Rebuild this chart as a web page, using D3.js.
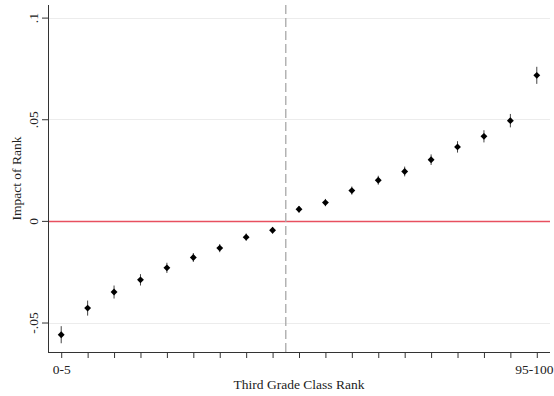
<!DOCTYPE html>
<html>
<head>
<meta charset="utf-8">
<script src="https://cdn.jsdelivr.net/npm/d3@7"></script>
<style>
  html, body { margin: 0; padding: 0; background: #fff; }
  svg { display: block; }
  text { font-family: "Liberation Serif", "Times New Roman", serif; fill: #222; }
</style>
</head>
<body>
<svg id="chart" width="554" height="396"></svg>
<script>
// Data
const categories = ["0-5","","","","","","","","","","","","","","","","","","95-100"];
const estimates = [-0.056, -0.0429, -0.035, -0.029, -0.0231, -0.018, -0.0134, -0.008, -0.0046,
                   0.0057, 0.009, 0.0149, 0.020, 0.0243, 0.0301, 0.0364, 0.0416, 0.0493, 0.0716];
const ciHalf = [0.0042, 0.0037, 0.0032, 0.0028, 0.0025, 0.0022, 0.002, 0.0018, 0.0016,
                0.0016, 0.0018, 0.002, 0.0022, 0.0024, 0.0026, 0.0028, 0.003, 0.0033, 0.0042];
const yTickValues = [-0.05, 0, 0.05, 0.1];
const yTickLabels = ["-.05", "0", ".05", ".1"];
const cutoffIndex = 8.5;

const svg = d3.select("#chart");
const mLeft = 48, mRight = 550, mTop = 5, mBottom = 352;

const x = d3.scaleLinear().domain([-0.5, categories.length - 0.5]).range([mLeft, mRight]);
const y = d3.scaleLinear().domain([-0.0645, 0.1062]).range([mBottom, mTop]);

// Gridlines
svg.append("g").selectAll("line")
  .data(yTickValues.filter(v => v !== 0))
  .join("line")
  .attr("x1", mLeft + 1).attr("x2", mRight)
  .attr("y1", d => Math.round(y(d)) + 0.5).attr("y2", d => Math.round(y(d)) + 0.5)
  .attr("stroke", "#ececec").attr("stroke-width", 1.2);

// Zero reference line
svg.append("line")
  .attr("x1", mLeft + 1).attr("x2", mRight)
  .attr("y1", Math.round(y(0)) + 0.5).attr("y2", Math.round(y(0)) + 0.5)
  .style("stroke", "#e8505f").style("stroke-width", "1.3px");

// Dashed cutoff line
svg.append("line")
  .attr("x1", x(cutoffIndex)).attr("x2", x(cutoffIndex))
  .attr("y1", mTop).attr("y2", mBottom)
  .attr("stroke", "#a8a8a8").attr("stroke-width", 1.3)
  .attr("stroke-dasharray", "9,4");

// Y axis
const yAxis = d3.axisLeft(y).tickValues(yTickValues)
  .tickFormat((d, i) => yTickLabels[i]).tickSize(6).tickSizeOuter(0);
const gy = svg.append("g").attr("transform", `translate(${mLeft},0)`).call(yAxis);
gy.select(".domain").attr("stroke", "#333").attr("d", `M0.5,${mTop}V${mBottom}`);
gy.selectAll(".tick line").attr("stroke", "#333");
gy.selectAll(".tick text")
  .attr("font-family", "Liberation Serif, serif").attr("font-size", 13.5).attr("fill", "#222")
  .attr("transform", "rotate(-90)")
  .attr("x", 0).attr("y", -10).attr("dy", 0)
  .attr("text-anchor", "middle");

// X axis
const xAxis = d3.axisBottom(x).tickValues(d3.range(categories.length))
  .tickFormat(i => categories[i]).tickSize(6).tickSizeOuter(0);
const gx = svg.append("g").attr("transform", `translate(0,${mBottom})`).call(xAxis);
gx.select(".domain").attr("stroke", "#333").attr("d", `M${mLeft},0.5H${mRight}`);
gx.selectAll(".tick line").attr("stroke", "#333");
gx.selectAll(".tick text")
  .attr("font-family", "Liberation Serif, serif").attr("font-size", 13.5).attr("fill", "#222")
  .attr("y", 12).attr("dy", "0.71em");
// keep the last label inside the frame
gx.selectAll(".tick text").filter((d, i) => i === categories.length - 1)
  .attr("text-anchor", "end").attr("x", 553 - x(categories.length - 1));

// Axis titles
svg.append("text")
  .attr("x", (mLeft + mRight) / 2).attr("y", 389)
  .attr("text-anchor", "middle").attr("font-size", 13.5)
  .text("Third Grade Class Rank");
svg.append("text")
  .attr("transform", `translate(21,${(mTop + mBottom) / 2}) rotate(-90)`)
  .attr("text-anchor", "middle").attr("font-size", 13.5)
  .text("Impact of Rank");

// Error bars
svg.append("g").selectAll("line")
  .data(estimates)
  .join("line")
  .attr("x1", (d, i) => x(i)).attr("x2", (d, i) => x(i))
  .attr("y1", (d, i) => y(d - ciHalf[i])).attr("y2", (d, i) => y(d + ciHalf[i]))
  .attr("stroke", "#444").attr("stroke-width", 1);

// Diamond markers
const diamond = d3.symbol().type(d3.symbolDiamond2).size(30);
svg.append("g").selectAll("path")
  .data(estimates)
  .join("path")
  .attr("transform", (d, i) => `translate(${x(i)},${y(d)})`)
  .attr("d", diamond)
  .attr("fill", "#000");
</script>
</body>
</html>
